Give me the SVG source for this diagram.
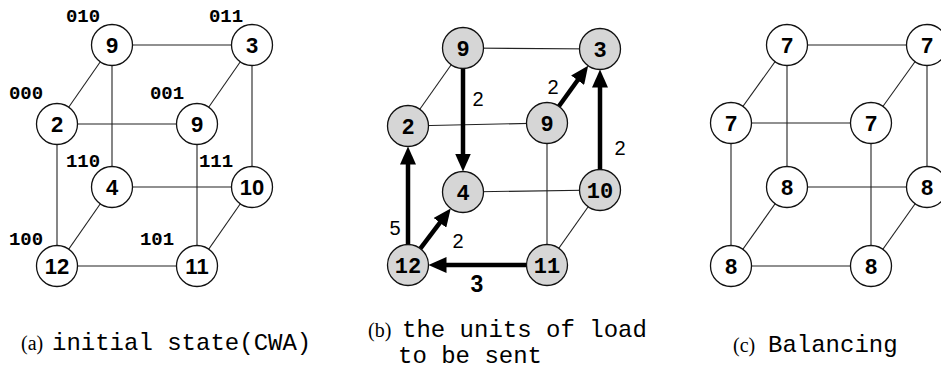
<svg xmlns="http://www.w3.org/2000/svg" width="941" height="372" viewBox="0 0 941 372">
  <defs>
    <style>
      .edge { stroke: #222; stroke-width: 1.1; fill: none; }
      .flow { stroke: #000; stroke-width: 4.5; fill: none; marker-end: url(#head); }
      .node { fill: #fff; stroke: #111; stroke-width: 1.3; }
      .shaded { fill: #d6d6d6; stroke: #111; stroke-width: 1.3; }
      .val { font-family: "Liberation Sans", Arial, sans-serif; font-weight: bold; font-size: 22px; text-anchor: middle; fill: #000; }
      .valm { font-family: "Liberation Mono", "Courier New", monospace; font-weight: bold; font-size: 22px; text-anchor: middle; fill: #000; }
      .bits { font-family: "Liberation Mono", "Courier New", monospace; font-weight: bold; font-size: 19px; text-anchor: middle; fill: #000; }
      .amt { font-family: "Liberation Sans", Arial, sans-serif; font-size: 20px; text-anchor: middle; fill: #000; }
      .amtb { font-family: "Liberation Sans", Arial, sans-serif; font-weight: bold; font-size: 23px; text-anchor: middle; fill: #000; }
      .tag { font-family: "Liberation Serif", "Times New Roman", serif; font-size: 20px; fill: #000; }
      .cap { font-family: "Liberation Mono", "Courier New", monospace; font-size: 24px; fill: #000; }
    </style>
    <marker id="head" markerUnits="userSpaceOnUse" markerWidth="18" markerHeight="16" refX="8" refY="8" orient="auto">
      <path d="M0,0 L18,8 L0,16 z" fill="#000"/>
    </marker>
  </defs>

  <!-- (a) initial state: cube edges -->
  <g id="edges-a">
    <line class="edge" x1="112" y1="45" x2="252" y2="45"/>
    <line class="edge" x1="112" y1="45" x2="57" y2="124"/>
    <line class="edge" x1="252" y1="45" x2="197" y2="124"/>
    <line class="edge" x1="57" y1="124" x2="197" y2="124"/>
    <line class="edge" x1="112" y1="45" x2="112" y2="187"/>
    <line class="edge" x1="252" y1="45" x2="252" y2="187"/>
    <line class="edge" x1="57" y1="124" x2="57" y2="266"/>
    <line class="edge" x1="197" y1="124" x2="197" y2="266"/>
    <line class="edge" x1="112" y1="187" x2="252" y2="187"/>
    <line class="edge" x1="112" y1="187" x2="57" y2="266"/>
    <line class="edge" x1="252" y1="187" x2="197" y2="266"/>
    <line class="edge" x1="57" y1="266" x2="197" y2="266"/>
  </g>

  <g id="a-010"><circle class="node" cx="112" cy="45" r="20.5"/><text class="val" x="112" y="53">9</text><text class="bits" x="83" y="22">010</text></g>
  <g id="a-011"><circle class="node" cx="252" cy="45" r="20.5"/><text class="val" x="252" y="53">3</text><text class="bits" x="226" y="22">011</text></g>
  <g id="a-000"><circle class="node" cx="57" cy="124" r="20.5"/><text class="val" x="57" y="132">2</text><text class="bits" x="26" y="99">000</text></g>
  <g id="a-001"><circle class="node" cx="197" cy="124" r="20.5"/><text class="val" x="197" y="132">9</text><text class="bits" x="167" y="99">001</text></g>
  <g id="a-110"><circle class="node" cx="112" cy="187" r="20.5"/><text class="val" x="112" y="195">4</text><text class="bits" x="83" y="167">110</text></g>
  <g id="a-111"><circle class="node" cx="252" cy="187" r="20.5"/><text class="val" x="252" y="195">10</text><text class="bits" x="216" y="167">111</text></g>
  <g id="a-100"><circle class="node" cx="57" cy="266" r="20.5"/><text class="val" x="57" y="274">12</text><text class="bits" x="26" y="245">100</text></g>
  <g id="a-101"><circle class="node" cx="197" cy="266" r="20.5"/><text class="val" x="197" y="274">11</text><text class="bits" x="157" y="245">101</text></g>

  <!-- (b) units of load to be sent -->
  <g id="edges-b">
    <line class="edge" x1="463" y1="48" x2="600" y2="49"/>
    <line class="edge" x1="463" y1="48" x2="408" y2="126"/>
    <line class="edge" x1="408" y1="126" x2="547" y2="123"/>
    <line class="edge" x1="547" y1="123" x2="547" y2="265"/>
    <line class="edge" x1="463" y1="192" x2="600" y2="190"/>
    <line class="edge" x1="600" y1="190" x2="547" y2="265"/>
    <line class="flow" x1="463" y1="68.5" x2="463" y2="161.5"/>
    <line class="flow" x1="558.9" y1="106.3" x2="582.3" y2="73.8"/>
    <line class="flow" x1="600" y1="169.5" x2="600" y2="79.5"/>
    <line class="flow" x1="408" y1="244.5" x2="408" y2="156.5"/>
    <line class="flow" x1="420.3" y1="248.6" x2="444.7" y2="216.4"/>
    <line class="flow" x1="526.5" y1="265" x2="438.5" y2="265"/>
    <text class="amt" x="478" y="106">2</text>
    <text class="amt" x="553" y="94">2</text>
    <text class="amt" x="620" y="155">2</text>
    <text class="amt" x="395" y="235">5</text>
    <text class="amt" x="458" y="248">2</text>
    <text class="amtb" x="477" y="292">3</text>
  </g>

  <g id="b-010"><circle class="shaded" cx="463" cy="48" r="20.5"/><text class="valm" x="463" y="56">9</text></g>
  <g id="b-011"><circle class="shaded" cx="600" cy="49" r="20.5"/><text class="valm" x="600" y="57">3</text></g>
  <g id="b-000"><circle class="shaded" cx="408" cy="126" r="20.5"/><text class="valm" x="408" y="134">2</text></g>
  <g id="b-001"><circle class="shaded" cx="547" cy="123" r="20.5"/><text class="valm" x="547" y="131">9</text></g>
  <g id="b-110"><circle class="shaded" cx="463" cy="192" r="20.5"/><text class="valm" x="463" y="200">4</text></g>
  <g id="b-111"><circle class="shaded" cx="600" cy="190" r="20.5"/><text class="valm" x="600" y="198">10</text></g>
  <g id="b-100"><circle class="shaded" cx="408" cy="265" r="20.5"/><text class="valm" x="408" y="273">12</text></g>
  <g id="b-101"><circle class="shaded" cx="547" cy="265" r="20.5"/><text class="valm" x="547" y="273">11</text></g>

  <!-- (c) balanced state -->
  <g id="edges-c">
    <line class="edge" x1="787" y1="45" x2="927" y2="45"/>
    <line class="edge" x1="787" y1="45" x2="731" y2="123"/>
    <line class="edge" x1="927" y1="45" x2="871" y2="123"/>
    <line class="edge" x1="731" y1="123" x2="871" y2="123"/>
    <line class="edge" x1="787" y1="45" x2="787" y2="187"/>
    <line class="edge" x1="927" y1="45" x2="927" y2="187"/>
    <line class="edge" x1="731" y1="123" x2="731" y2="266"/>
    <line class="edge" x1="871" y1="123" x2="871" y2="266"/>
    <line class="edge" x1="787" y1="187" x2="927" y2="187"/>
    <line class="edge" x1="787" y1="187" x2="731" y2="266"/>
    <line class="edge" x1="927" y1="187" x2="871" y2="266"/>
    <line class="edge" x1="731" y1="266" x2="871" y2="266"/>
  </g>

  <g id="c-010"><circle class="node" cx="787" cy="45" r="20.5"/><text class="val" x="787" y="53">7</text></g>
  <g id="c-011"><circle class="node" cx="927" cy="45" r="20.5"/><text class="val" x="927" y="53">7</text></g>
  <g id="c-000"><circle class="node" cx="731" cy="123" r="20.5"/><text class="val" x="731" y="131">7</text></g>
  <g id="c-001"><circle class="node" cx="871" cy="123" r="20.5"/><text class="val" x="871" y="131">7</text></g>
  <g id="c-110"><circle class="node" cx="787" cy="187" r="20.5"/><text class="val" x="787" y="195">8</text></g>
  <g id="c-111"><circle class="node" cx="927" cy="187" r="20.5"/><text class="val" x="927" y="195">8</text></g>
  <g id="c-100"><circle class="node" cx="731" cy="266" r="20.5"/><text class="val" x="731" y="274">8</text></g>
  <g id="c-101"><circle class="node" cx="871" cy="266" r="20.5"/><text class="val" x="871" y="274">8</text></g>

  <!-- captions -->
  <g id="captions">
    <text x="21" y="350"><tspan class="tag">(a)</tspan><tspan class="cap" x="52">initial state(CWA)</tspan></text>
    <text x="368" y="337"><tspan class="tag">(b)</tspan><tspan class="cap" x="402">the units of load</tspan></text>
    <text class="cap" x="398" y="363">to be sent</text>
    <text x="733" y="352"><tspan class="tag">(c)</tspan><tspan class="cap" x="768">Balancing</tspan></text>
  </g>
</svg>
